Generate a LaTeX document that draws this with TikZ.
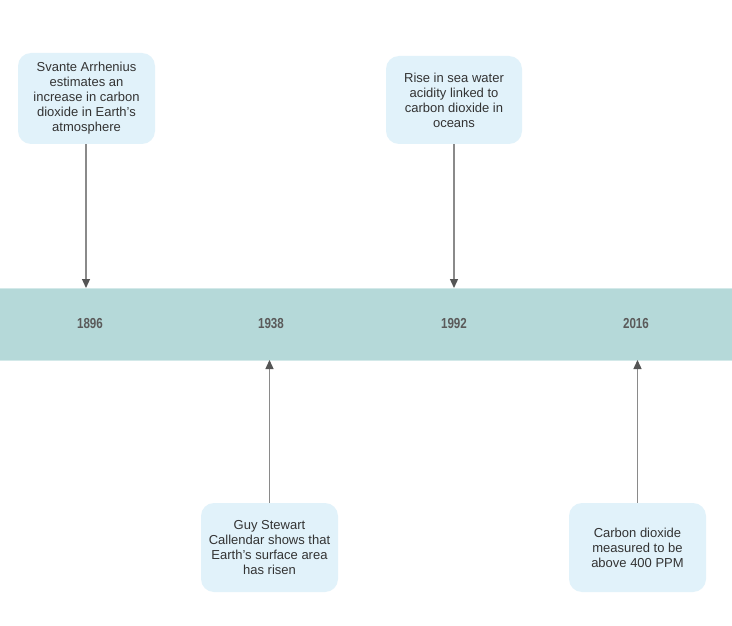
\documentclass[tikz,border=0pt]{standalone}
\usepackage{fontspec}
\setmainfont{Liberation Sans}
\usetikzlibrary{arrows.meta}
\definecolor{bandc}{HTML}{B5D9D9}
\definecolor{bandedge}{HTML}{D3E9E9}
\definecolor{boxc}{HTML}{E1F2FA}
\definecolor{txt}{HTML}{333333}
\definecolor{yeartxt}{HTML}{5A5A5A}
\definecolor{linec}{HTML}{8A8A8A}
\definecolor{headc}{HTML}{555555}
\tikzset{
  event/.style={fill=boxc, draw=none, rounded corners=13pt, minimum width=137pt, minimum height=89pt,
    align=center, font=\fontsize{13}{15}\selectfont, text=txt, inner sep=0pt},
  year/.style={font=\fontsize{14.5}{16}\selectfont, text=yeartxt, inner sep=0pt},
  conn/.style={draw=linec, line width=1.3pt, -{Triangle[length=9pt,width=8pt,color=headc]}}
}
\begin{document}
\begin{tikzpicture}[x=1pt,y=-1pt]
\useasboundingbox (0,0) rectangle (732,626);
\fill[white] (0,0) rectangle (732,626);
\fill[bandc] (0,288) rectangle (732,360);
\draw[bandedge, line width=1pt] (0,288) -- (732,288) (0,360) -- (732,360);
\node[year] (y1) at (90,324) {\scalebox{0.8}[1]{\textbf{1896}}};
\node[year] (y2) at (271,324) {\scalebox{0.8}[1]{\textbf{1938}}};
\node[year] (y3) at (454,324) {\scalebox{0.8}[1]{\textbf{1992}}};
\node[year] (y4) at (636,324) {\scalebox{0.8}[1]{\textbf{2016}}};
\coordinate (t1) at (86,288);
\coordinate (t2) at (454,288);
\coordinate (b1) at (269.5,360);
\coordinate (b2) at (637.5,360);
\node[event, minimum height=91pt] (e1) at (86.5,98.5) {Svante Arrhenius\\estimates an\\increase in carbon\\dioxide in Earth's\\atmosphere};
\node[event, minimum width=136pt, minimum height=88pt] (e2) at (454,100) {Rise in sea water\\acidity linked to\\carbon dioxide in\\oceans};
\node[event] (e3) at (269.5,547.5) {Guy Stewart\\Callendar shows that\\Earth's surface area\\has risen};
\node[event] (e4) at (637.5,547.5) {Carbon dioxide\\measured to be\\above 400 PPM};
\draw[conn] (e1.south -| t1) -- (t1);
\draw[conn] (e2.south) -- (t2);
\draw[conn] (e3.north) -- (b1);
\draw[conn] (e4.north) -- (b2);
\end{tikzpicture}
\end{document}
